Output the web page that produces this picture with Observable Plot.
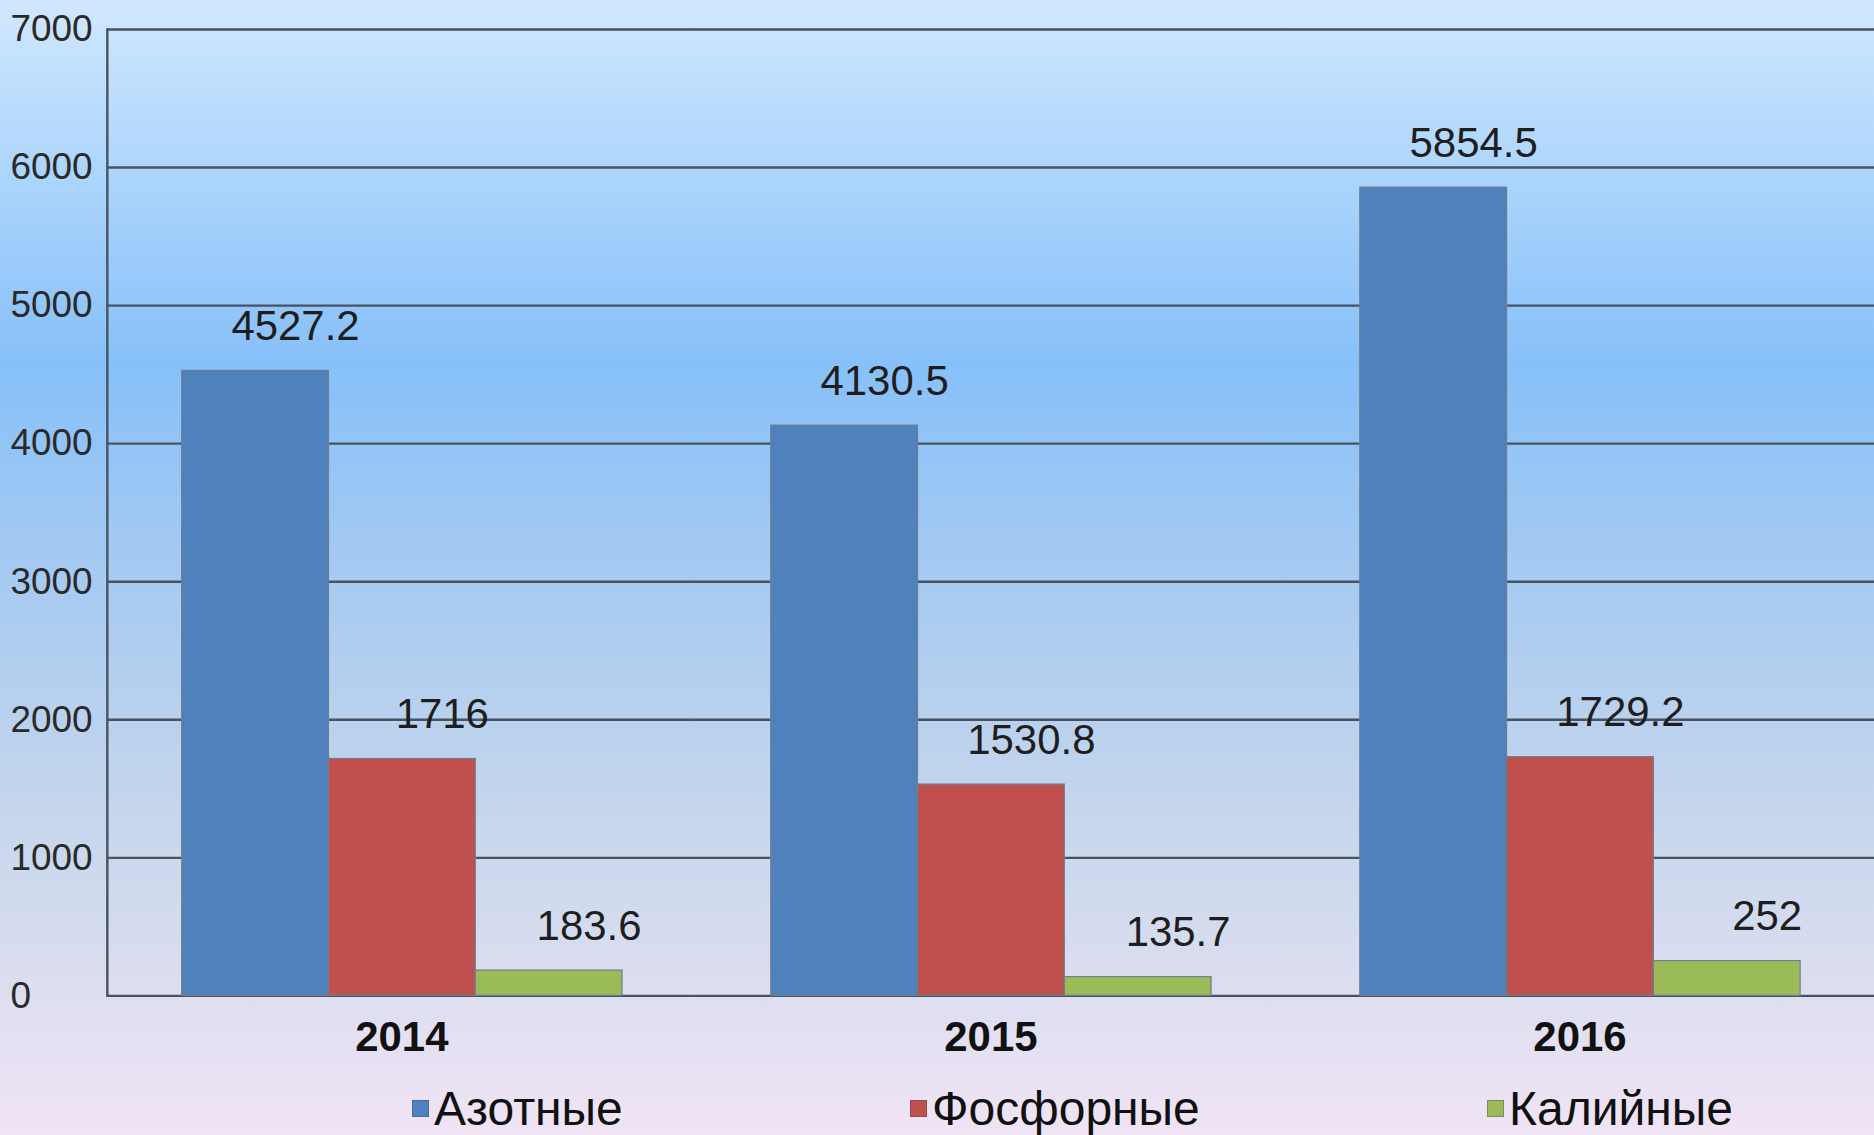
<!DOCTYPE html>
<html><head><meta charset="utf-8">
<script src="https://cdn.jsdelivr.net/npm/d3@7"></script>
<script src="https://cdn.jsdelivr.net/npm/@observablehq/plot@0.6"></script>
<style>
html,body{margin:0;padding:0;overflow:hidden;width:1874px;height:1135px;}
body{background:linear-gradient(to bottom,#d0e8fd 0%,#b0d7fc 14%,#87c0f9 32%,#a5caf2 50%,#c3d5ec 70%,#dcdef0 87%,#f0e4f5 100%);font-family:"Liberation Sans",Arial,sans-serif;}
#chart svg{display:block;}
#legend{position:relative;height:65px;width:1874px;}
.item{position:absolute;top:0;height:80px;display:flex;align-items:center;font-size:48px;color:#111;white-space:nowrap;}
.sw{width:17px;height:17px;margin-right:5px;box-sizing:border-box;border:1px solid rgba(60,70,80,0.35);}
</style></head><body>
<div id="chart"></div><div id="legend"></div>
<script>
const years = ["2014", "2015", "2016"];
const types = ["Азотные", "Фосфорные", "Калийные"];
const azotnye = [4527.2, 4130.5, 5854.5];
const fosfornye = [1716, 1530.8, 1729.2];
const kaliynye = [183.6, 135.7, 252];
const colors = ["#4f81bd", "#c0504d", "#9bbb59"];
const yTicks = [0, 1000, 2000, 3000, 4000, 5000, 6000, 7000];

const series = [azotnye, fosfornye, kaliynye];
const data = [];
years.forEach((yr, i) => types.forEach((t, j) => data.push({year: yr, type: t, value: series[j][i]})));

const font = '"Liberation Sans", Arial, sans-serif';
const plot = Plot.plot({
  width: 1877,
  height: 1070,
  marginLeft: 107,
  marginRight: 0,
  marginTop: 29,
  marginBottom: 73,
  style: {background: "transparent", fontFamily: font, overflow: "visible"},
  fx: {domain: years, padding: 0, label: null},
  x: {domain: types, paddingInner: 0, paddingOuter: 0.5, axis: null},
  y: {domain: [0, 7000], label: null},
  color: {domain: types, range: colors},
  marks: [
    Plot.gridY(yTicks, {stroke: "#48535f", strokeOpacity: 1, strokeWidth: 2.4}),
    Plot.frame({anchor: "left", facetAnchor: "left", stroke: "#48535f", strokeWidth: 2.4}),
    Plot.axisY(yTicks, {tickSize: 0, tickPadding: 97, textAnchor: "start", fontSize: 37, fill: "#2a2a2a", tickFormat: d => String(d)}),
    Plot.axisFx({anchor: "bottom", tickSize: 0, tickPadding: 25, fontSize: 42, fontWeight: "bold", fill: "#111", label: null}),
    Plot.barY(data, {fx: "year", x: "type", y: "value", fill: "type", stroke: "#6f7d8c", strokeWidth: 1.2}),
    Plot.text(data, {fx: "year", x: "type", y: "value", text: d => String(d.value), dx: 40, dy: -31, lineAnchor: "bottom", fontSize: 42, fill: "#1e1e1e"})
  ]
});
document.getElementById("chart").appendChild(plot);

const legendLeft = [412, 910, 1487];
const legend = document.getElementById("legend");
types.forEach((t, i) => {
  const item = document.createElement("div");
  item.className = "item";
  item.style.left = legendLeft[i] + "px";
  const sw = document.createElement("span");
  sw.className = "sw";
  sw.style.background = colors[i];
  const lab = document.createElement("span");
  lab.textContent = t;
  item.appendChild(sw);
  item.appendChild(lab);
  legend.appendChild(item);
});
</script>
</body></html>
